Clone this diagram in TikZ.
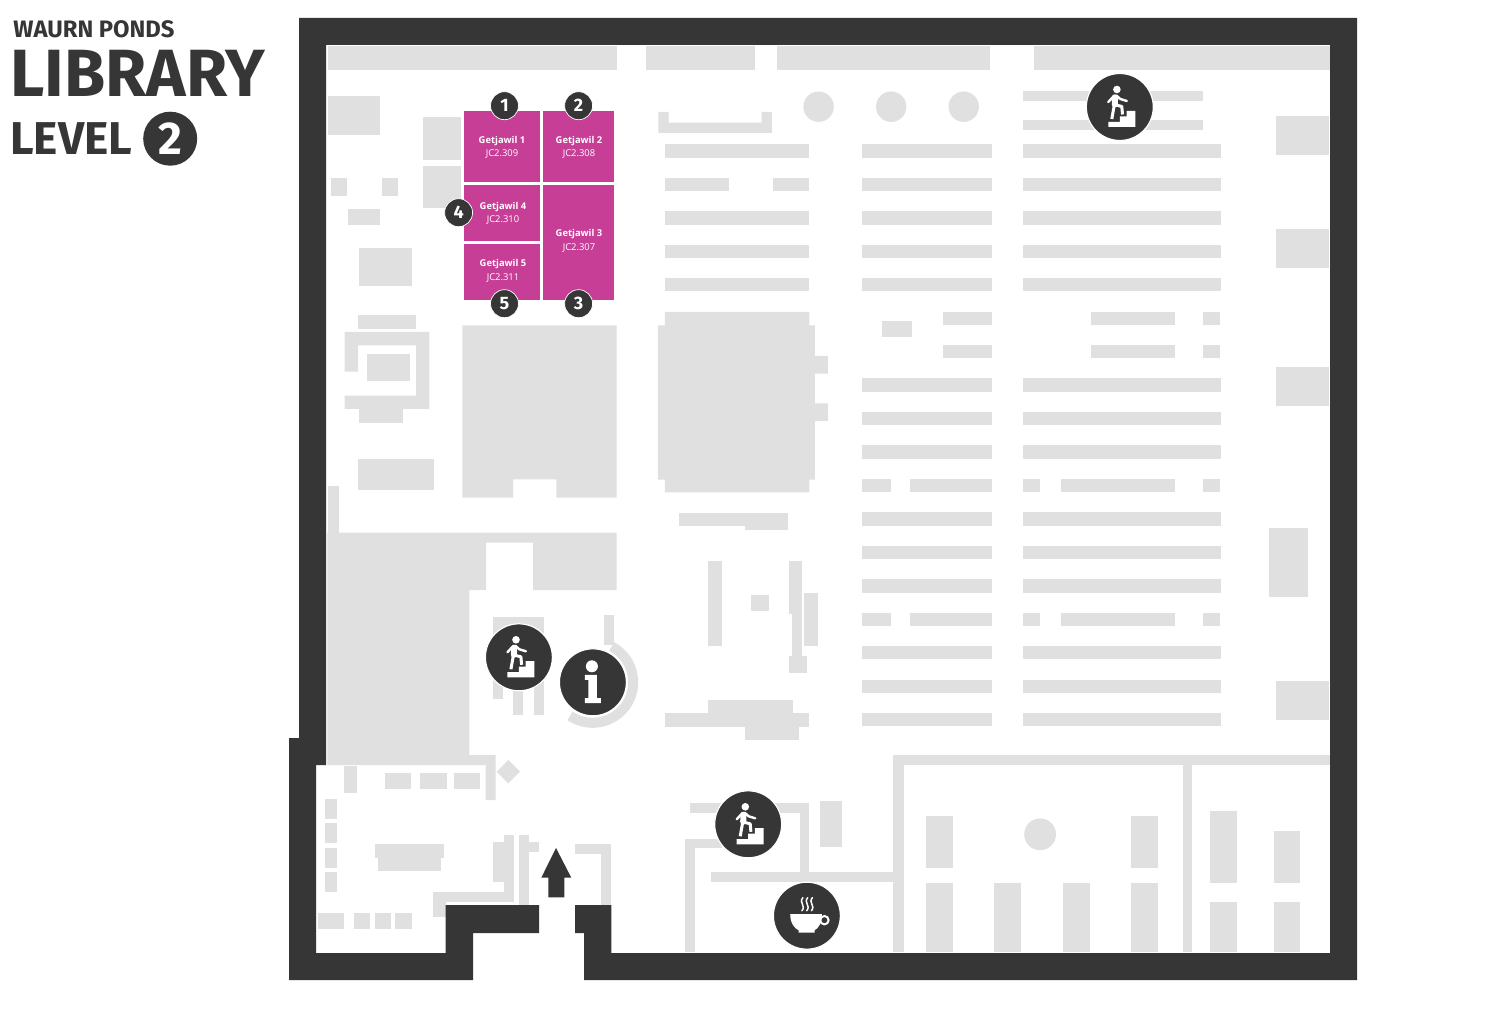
\documentclass[tikz,border=0pt]{standalone}
\usepackage{fontspec}
\setmainfont{Open Sans}
\newfontfamily\titlefont{Fira Sans}
\usetikzlibrary{positioning}
\definecolor{wallgrey}{HTML}{363636}
\definecolor{plangrey}{HTML}{E0E0E0}
\definecolor{getjawil}{HTML}{C73E97}

\tikzset{
	stairicon/.pic={
		\fill[white] (-11.5,20) -- (-11.5,14.8) -- (0,14.8) -- (0,9.3) -- (6.7,9.3) -- (6.7,3.8) -- (15.5,3.8) -- (15.5,20) -- cycle;
		\fill[white] (-2.9,-17.5) circle[radius=3.8];
		\draw[white,line width=3pt,line cap=round] (-4.7,-9.5) -- (-5,-2.5);
		\draw[white,line width=1.2pt,line cap=round,line join=round] (-5.5,-11.5) -- (-11.5,-5);
		\draw[white,line width=1.2pt,line cap=round,line join=round] (-3.5,-11.5) -- (0.5,-8) -- (7,-6);
		\draw[white,line width=1.5pt,line join=round] (-5.5,-2) -- (-8,12);
		\draw[white,line width=1.5pt,line join=round] (-4,-2) -- (2,-0.5) -- (2.7,7.5);
	},
	infoicon/.pic={
		\fill[white] (-1,-16) circle[radius=6];
		\fill[white] (-8,-7.5) -- (4,-7.5) -- (4,15.7) -- (8,15.7) -- (8,20.7) -- (-8,20.7) -- (-8,15.7) -- (-4.5,15.7) -- (-4.5,-2.5) -- (-8,-2.5) -- cycle;
	},
	cupicon/.pic={
		\fill[white] (-16.7,-1.7) -- (15,-1.7) .. controls (15,8) and (11,13) .. (7.7,14.5) -- (7.7,17) -- (-8.3,17) -- (-8.3,14.5) .. controls (-12,13) and (-16.7,8) .. (-16.7,-1.7) -- cycle;
		\draw[white,line width=1pt] (17.5,4.5) circle[radius=4.2];
		\foreach \sx in {-4.5,0.3,5}
			\draw[white,line width=0.75pt,line cap=round] (\sx+0.5,-18) .. controls (\sx-4,-13) and (\sx+4,-10) .. (\sx-0.5,-5);
	}
}

\begin{document}
\begin{tikzpicture}[x=0.5pt,y=-0.5pt,
	block/.style={fill=plangrey},
	room/.style={fill=getjawil},
	roomlabel/.style={text=white,align=center,font=\fontsize{4.7}{6.65}\selectfont},
	markr/.style={draw=white,line width=0.35pt,circle,fill=wallgrey,text=white,inner sep=0pt,minimum size=14pt,font=\titlefont\bfseries\fontsize{9}{9}\selectfont},
	iconbg/.style={draw=white,line width=0.6pt,circle,fill=wallgrey,inner sep=0pt,minimum size=33.5pt},
	title/.style={text=wallgrey,inner sep=0pt,anchor=base west}]
	\useasboundingbox (0,0) rectangle (1500,1010);
	\fill[white] (0,0) rectangle (1500,1010);

	% along the top
	\fill[block] (327.5,46.5) rectangle (617,70);
	\fill[block] (646,46.5) rectangle (754.5,70);
	\fill[block] (777,46.5) rectangle (990,70);
	\fill[block] (1034,46.5) rectangle (1330,70);
	\fill[block] (658.4,112) -- (668.5,112) -- (668.5,122.7) -- (761.7,122.7) -- (761.7,112) -- (771.8,112) -- (771.8,133) -- (658.4,133) -- cycle;
	\foreach \cx in {818.6,891.2,963.7}
		\fill[block] (\cx,106.7) circle[radius=15.2];
	\fill[block] (1023.4,91) rectangle (1203.4,101);
	\fill[block] (1023.4,120.3) rectangle (1203.4,130.3);

	% shelves
	\foreach \k in {0,...,4,7,8,9,11,12,13,15,16,17} {
		\pgfmathsetmacro\ty{144.3+33.45*\k}
		\fill[block] (862.2,\ty) rectangle (992.2,\ty+13.4);
		\fill[block] (1023.4,\ty) rectangle (1220.8,\ty+13.4);
	}
	\foreach \k in {5,6} {
		\pgfmathsetmacro\ty{144.3+33.45*\k}
		\fill[block] (942.6,\ty) rectangle (992.2,\ty+13.4);
		\fill[block] (1090.9,\ty) rectangle (1175.4,\ty+13.4);
		\fill[block] (1203.4,\ty) rectangle (1219.9,\ty+13.4);
	}
	\foreach \k in {10,14} {
		\pgfmathsetmacro\ty{144.3+33.45*\k}
		\fill[block] (862.2,\ty) rectangle (891.2,\ty+13.4);
		\fill[block] (909.5,\ty) rectangle (992.2,\ty+13.4);
		\fill[block] (1023.4,\ty) rectangle (1040,\ty+13.4);
		\fill[block] (1061,\ty) rectangle (1175.4,\ty+13.4);
		\fill[block] (1203.4,\ty) rectangle (1219.9,\ty+13.4);
	}
	\foreach \k in {0,2,3,4} {
		\pgfmathsetmacro\ty{144.3+33.45*\k}
		\fill[block] (664.8,\ty) rectangle (809.4,\ty+13.4);
	}
	\fill[block] (664.8,177.75) rectangle (728.6,191.15);
	\fill[block] (773.1,177.75) rectangle (809.4,191.15);
	\fill[block] (882.4,320.7) rectangle (911.8,336.7);

	% big block middle
	\fill[block] (664.8,312) -- (809.4,312) -- (809.4,325.3) -- (814.9,325.3) -- (814.9,356) -- (827.8,356) -- (827.8,373.7) -- (814.9,373.7) -- (814.9,403.3) -- (827.8,403.3) -- (827.8,421) -- (814.9,421) -- (814.9,479.7) -- (809.4,479.7) -- (809.4,492.3) -- (664.8,492.3) -- (664.8,479.7) -- (657.9,479.7) -- (657.9,325.3) -- (664.8,325.3) -- cycle;

	% right side
	\fill[block] (1275.9,116) rectangle (1329,154.7);
	\fill[block] (1275.9,229.3) rectangle (1329,268.3);
	\fill[block] (1275.9,367.3) rectangle (1329,406.3);
	\fill[block] (1269,527.7) rectangle (1308,597);
	\fill[block] (1275.9,681.3) rectangle (1329,719.7);

	% left side
	\fill[block] (327.8,96) rectangle (379.6,135);
	\fill[block] (422.9,117.3) rectangle (461.2,160);
	\fill[block] (422.9,166) rectangle (461.2,208.3);
	\fill[block] (331,178.3) rectangle (347.3,196.3);
	\fill[block] (381.6,178.3) rectangle (398,196.3);
	\fill[block] (348.2,208.7) rectangle (379.6,224.7);
	\fill[block] (359.2,247.7) rectangle (411.8,286.3);
	\fill[block] (358,315.3) rectangle (416,328.7);
	\fill[block] (344.5,332) -- (429.4,332) -- (429.4,409) -- (344.5,409) -- (344.5,395.7) -- (416,395.7) -- (416,345.3) -- (358,345.3) -- (358,371.7) -- (344.5,371.7) -- cycle;
	\fill[block] (366.5,353.7) rectangle (409.8,380.7);
	\fill[block] (359.2,409) rectangle (402.9,423);
	\fill[block] (357.6,459.3) rectangle (433.9,490.3);
	\fill[block] (327.8,486) rectangle (339.2,533);
	\fill[block] (462.4,325.3) -- (616.7,325.3) -- (616.7,497.7) -- (556.3,497.7) -- (556.3,479.3) -- (513,479.3) -- (513,497.7) -- (462.4,497.7) -- cycle;
	\fill[block] (327.3,532.7) -- (616.7,532.7) -- (616.7,590) -- (533,590) -- (533,542.7) -- (486,542.7) -- (486,590) -- (469.3,590) -- (469.3,755) -- (495.7,755) -- (495.7,800) -- (485.7,800) -- (485.7,765) -- (327.3,765) -- cycle;

	% middle, round the desk
	\fill[block] (678.6,512.7) rectangle (788.3,526);
	\fill[block] (745,526) rectangle (788.3,530.3);
	\fill[block] (708.4,561) rectangle (722.2,645.7);
	\fill[block] (788.8,561) rectangle (802,614.3);
	\fill[block] (792,614.3) rectangle (802,656);
	\fill[block] (788.8,656) rectangle (806.7,672.7);
	\fill[block] (804.4,593) rectangle (817.7,646.3);
	\fill[block] (751,595) rectangle (769,611);
	\fill[block] (708.4,700) rectangle (792.9,713.3);
	\fill[block] (664.8,713.3) rectangle (809,726.7);
	\fill[block] (745,726.7) rectangle (798.9,740);

	% rooms at the bottom right
	\fill[block] (893.4,755) rectangle (1330,764.7);
	\fill[block] (893.4,755) rectangle (903.5,952);
	\fill[block] (1182.7,755) rectangle (1192.3,952);
	\foreach \bx in {926,1130.8}
		\fill[block] (\bx,816) rectangle (\bx+26.8,868);
	\foreach \bx in {926,994.4,1062.9,1130.8}
		\fill[block] (\bx,883) rectangle (\bx+26.8,952);
	\fill[block] (1040.1,834.3) circle[radius=15.9];
	\fill[block] (1209.8,811.3) rectangle (1236.9,882.7);
	\fill[block] (1273.6,830.7) rectangle (1300.2,882.7);
	\fill[block] (1209.8,902) rectangle (1236.9,952);
	\fill[block] (1273.6,902) rectangle (1300.2,952);

	% round the lower stairs
	\fill[block] (690,803) rectangle (809,813);
	\fill[block] (799.8,803) rectangle (809,872);
	\fill[block] (711.2,872) rectangle (893.4,881.7);
	\fill[block] (685,838.7) rectangle (722,848.3);
	\fill[block] (685,838.7) rectangle (695,952);
	\fill[block] (820,801.3) rectangle (842,847.3);

	% entrance area
	\fill[block] (508.3,760) -- (520,771.7) -- (508.3,783.4) -- (496.6,771.7) -- cycle;
	\fill[block] (344.3,766) rectangle (356.7,792.7);
	\fill[block] (384.7,772.7) rectangle (411.3,788.7);
	\fill[block] (420,772.7) rectangle (446.7,788.7);
	\fill[block] (453.7,772.7) rectangle (480.3,788.7);
	\fill[block] (325.3,798.7) rectangle (337.3,818.7);
	\fill[block] (325.3,823) rectangle (337.3,842.7);
	\fill[block] (325.3,847.7) rectangle (337.3,867.7);
	\fill[block] (325.3,872.3) rectangle (337.3,892.3);
	\fill[block] (317.7,913) rectangle (344,929);
	\fill[block] (354,913) rectangle (370,929);
	\fill[block] (374.7,913) rectangle (391,929);
	\fill[block] (395.3,913) rectangle (411.7,929);
	\fill[block] (374.7,844.3) rectangle (444.3,857.7);
	\fill[block] (378.3,857.7) rectangle (440.7,871);
	\fill[block] (492.7,841.7) rectangle (504.3,882.3);
	\fill[block] (504.3,835) rectangle (514,902.3);
	\fill[block] (433,892.3) rectangle (514,902.3);
	\fill[block] (433,892.3) rectangle (446,916.7);
	\fill[block] (519,835) rectangle (529,905);
	\fill[block] (529,842.3) rectangle (539,852.3);
	\fill[block] (575,844.3) rectangle (611.3,854.3);
	\fill[block] (601.3,844.3) rectangle (611.3,905);

	% behind the stairs and the info point
	\fill[block] (492.7,617) rectangle (544,645);
	\fill[block] (492.7,645) rectangle (502.7,699.3);
	\fill[block] (513.3,645) rectangle (523.3,715.3);
	\fill[block] (534,645) rectangle (544,715.3);
	\fill[block] (604,615) rectangle (614,645);
	\draw[plangrey,line width=5pt] (592.7,682.3) ++(-62:40.5) arc[start angle=-62,end angle=124,radius=40.5];

	% outer wall
	\fill[wallgrey] (299,18) -- (1357,18) -- (1357,980) -- (584,980) -- (584,933) -- (575,933) -- (575,905) -- (611.3,905) -- (611.3,953) -- (1330,953) -- (1330,45) -- (326,45) -- (326,765) -- (316,765) -- (316,953) -- (445.7,953) -- (445.7,905) -- (539,905) -- (539,933) -- (473,933) -- (473,980) -- (289,980) -- (289,738) -- (299,738) -- cycle;

	% entrance arrow
	\fill[wallgrey] (556,848) -- (571.3,877.7) -- (564.3,877.7) -- (564.3,897.3) -- (548.3,897.3) -- (548.3,877.7) -- (541.3,877.7) -- cycle;

	% the rooms
	\fill[room] (463.7,110.7) rectangle (540.3,182);
	\fill[room] (543.3,110.7) rectangle (614.3,182);
	\fill[room] (463.7,184.7) rectangle (540.3,240.7);
	\fill[room] (463.7,243.7) rectangle (540.3,300.3);
	\fill[room] (543.3,184.7) rectangle (614.3,300.3);
	\node[roomlabel] (g1) at (502,147.3) {\textbf{Getjawil 1}\\JC2.309};
	\node[roomlabel] (g2) at (579,147.3) {\textbf{Getjawil 2}\\JC2.308};
	\node[roomlabel] (g3) at (579,240.8) {\textbf{Getjawil 3}\\JC2.307};
	\node[roomlabel] (g4) at (503,213) {\textbf{Getjawil 4}\\JC2.310};
	\node[roomlabel] (g5) at (503,270.8) {\textbf{Getjawil 5}\\JC2.311};
	\node[markr] (m1) at (504.5,105.7) {1};
	\node[markr] (m2) at (578.6,105.7) {2};
	\node[markr] (m3) at (578.6,303.7) {3};
	\node[markr] (m4) at (458.6,212.7) {4};
	\node[markr] (m5) at (504.5,303.7) {5};

	% icons
	\node[iconbg] (upa) at (1119.8,107) {};
	\node[iconbg] (upb) at (518.9,657.3) {};
	\node[iconbg] (upc) at (748.2,824.3) {};
	\node[iconbg] (info) at (592.9,682.3) {};
	\node[iconbg] (cafe) at (806.9,915.7) {};
	\pic at (upa) {stairicon};
	\pic at (upb) {stairicon};
	\pic at (upc) {stairicon};
	\pic at (info) {infoicon};
	\pic at (cafe) {cupicon};

	% heading
	\node[title,font=\titlefont\bfseries\fontsize{11.9}{11.9}\selectfont] (campus) at (13,38) {WAURN PONDS};
	\node[title,font=\titlefont\bfseries\fontsize{33.4}{33.4}\selectfont] (lib) at (10,97) {LIBRARY};
	\node[title,font=\titlefont\bfseries\fontsize{23}{23}\selectfont] (level) at (10,155) {LEVEL};
	\node[circle,fill=wallgrey,text=white,inner sep=0pt,minimum size=27pt,font=\titlefont\bfseries\fontsize{23}{23}\selectfont] (lev2) at (170.2,138.7) {2};
\end{tikzpicture}
\end{document}
